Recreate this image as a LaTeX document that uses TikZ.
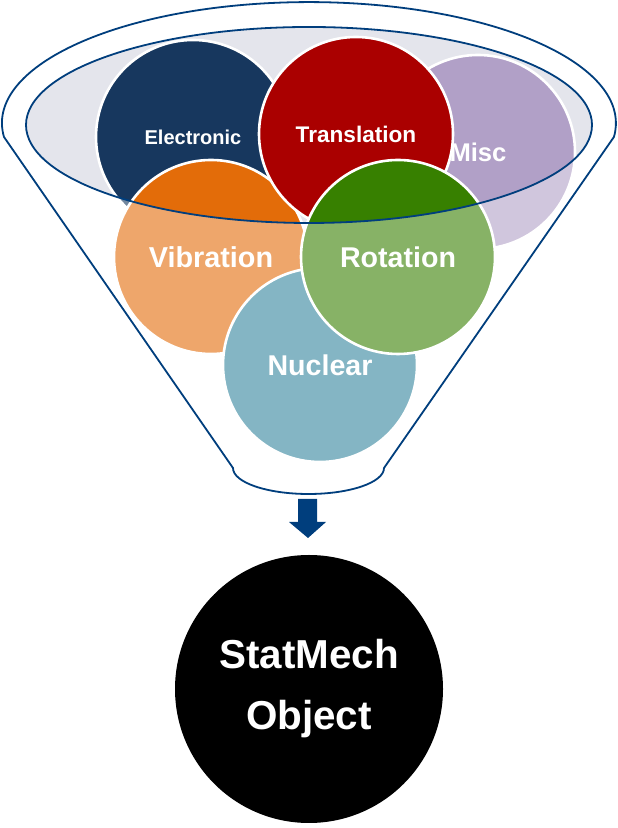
\documentclass[tikz,border=0pt]{standalone}
\usepackage{fontspec}
\setmainfont{Liberation Sans}
\definecolor{funnelblue}{RGB}{0,62,125}
\definecolor{rimgrey}{RGB}{228,229,236}
\definecolor{navy}{RGB}{23,55,94}
\definecolor{transred}{RGB}{170,0,0}
\definecolor{misclilac}{RGB}{177,160,199}
\definecolor{viborange}{RGB}{227,108,9}
\definecolor{rotgreen}{RGB}{55,128,0}
\definecolor{nuclblue}{RGB}{50,132,157}
\tikzset{
	ball/.style={circle, draw=white, line width=1.3pt, minimum size=97pt, inner sep=0pt, text=white, font=\bfseries},
	funnel/.style={draw=funnelblue, line width=0.9pt}
}

\begin{document}
\begin{tikzpicture}[x=0.5pt, y=0.5pt]
	\useasboundingbox (0,0) rectangle (617,828);
	%inside of the rim
	\fill[rimgrey] (309,703) ellipse [x radius=283, y radius=98];
	%circles
	\node[ball, fill=navy, font=\bfseries\fontsize{10}{12}\selectfont] (electronic) at (193,691) {Electronic};
	\node[ball, fill=misclilac, font=\bfseries\fontsize{12.8}{15}\selectfont] (misc) at (478,676) {Misc};
	\node[ball, fill=viborange, font=\bfseries\fontsize{14.4}{17}\selectfont] (vibration) at (211,571) {Vibration};
	\node[ball, fill=transred, font=\bfseries\fontsize{11.3}{13}\selectfont] (translation) at (356,694) {Translation};
	\node[ball, fill=nuclblue, font=\bfseries\fontsize{14.3}{17}\selectfont] (nuclear) at (320,463) {Nuclear};
	\node[ball, fill=rotgreen, font=\bfseries\fontsize{14.3}{17}\selectfont] (rotation) at (398,571) {Rotation};
	%paler below the rim
	\fill[white, opacity=0.4, even odd rule] (0,330) rectangle (617,828) (309,703) ellipse [x radius=283, y radius=98];
	\draw[funnel] (309,703) ellipse [x radius=283, y radius=98];
	%funnel
	\draw[funnel] (4,691) arc [start angle=186.6, end angle=-6.6, x radius=307, y radius=121] -- (384,360)
		arc [start angle=0, end angle=-180, x radius=75.5, y radius=26] -- cycle;
	%arrow
	\fill[funnelblue] (298,329) -- (317,329) -- (317,306) -- (326,306) -- (308,290) -- (289,306) -- (298,306) -- cycle;
	%result
	\node[circle, fill=black, minimum size=134pt, inner sep=0pt, text=white, align=center,
		font=\bfseries\fontsize{20.2}{30.5}\selectfont] (statmech) at (309,139) {StatMech\\Object};
\end{tikzpicture}
\end{document}
